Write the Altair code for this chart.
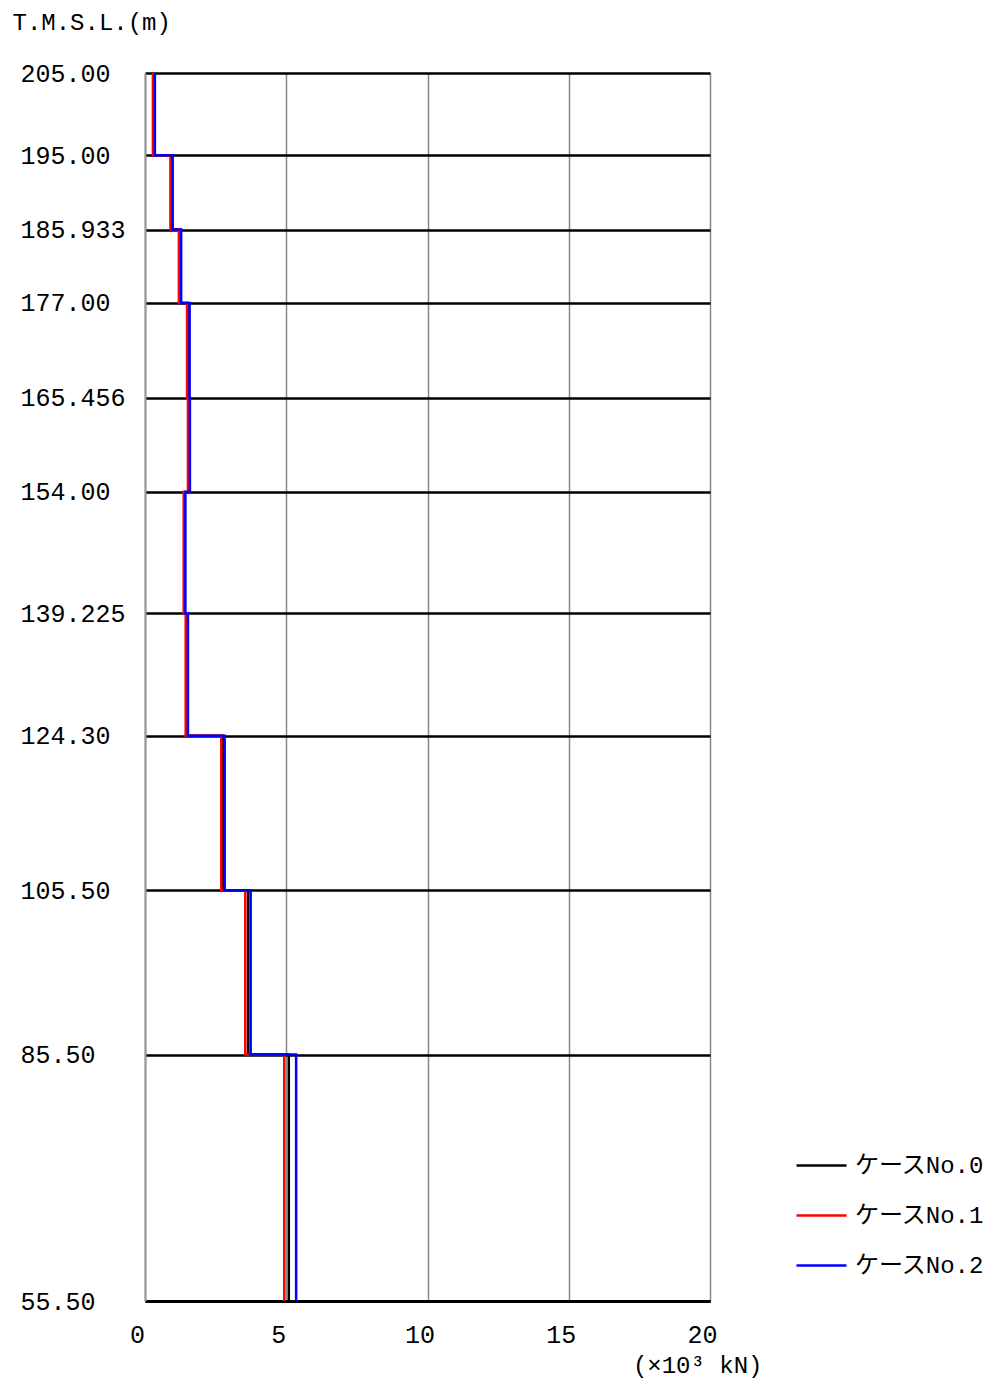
import altair as alt
import pandas as pd

levels = [205.0, 195.0, 185.933, 177.0, 165.456, 154.0, 139.225, 124.3, 105.5, 85.5, 55.5]
level_labels = ["205.00", "195.00", "185.933", "177.00", "165.456", "154.00",
                "139.225", "124.30", "105.50", "85.50", "55.50"]
cases = ["ケースNo.0", "ケースNo.1", "ケースNo.2"]
case0 = [0.31, 0.94, 1.24, 1.53, 1.55, 1.40, 1.48, 2.76, 3.65, 5.09]
case1 = [0.28, 0.90, 1.20, 1.49, 1.52, 1.37, 1.44, 2.70, 3.55, 4.93]
case2 = [0.35, 0.98, 1.28, 1.58, 1.59, 1.43, 1.52, 2.82, 3.74, 5.35]
x_ticks = [0, 5, 10, 15, 20]
colors = ["#000000", "#ff0000", "#0000ff"]

rows = []
for name, vals in zip(cases, [case0, case1, case2]):
    k = 0
    for i, v in enumerate(vals):
        rows.append({"case": name, "x": v, "y": levels[i], "o": k}); k += 1
        rows.append({"case": name, "x": v, "y": levels[i + 1], "o": k}); k += 1
df = pd.DataFrame(rows)

mapping = ",".join("'%s':'%s'" % (repr(v).rstrip('0').rstrip('.') if '.' in repr(v) else repr(v), lab)
                   for v, lab in zip(levels, level_labels))
label_expr = "({%s})[toString(datum.value)]" % mapping

FONT = "Liberation Mono, Noto Sans CJK JP"

chart = alt.Chart(df).mark_line(strokeWidth=2.5).encode(
    x=alt.X("x:Q", scale=alt.Scale(domain=[0, 20], nice=False, zero=False),
            axis=alt.Axis(values=x_ticks, title="(×10³ kN)", grid=True,
                          gridColor="#888888", gridWidth=1.5, domainColor="#000000",
                          domainWidth=3, ticks=False, labelPadding=33,
                          labelOffset=-8, labelFlush=False, labelFontSize=25,
                          labelFont=FONT,
                          labelColor="#000000", labelBaseline="middle",
                          titleFont=FONT, titleFontSize=24, titleFontWeight="normal",
                          titleColor="#000000", titleAnchor="end", titleAlign="right",
                          titleX=617, titleY=64, titleBaseline="middle")),
    y=alt.Y("y:Q", scale=alt.Scale(domain=[55.5, 205], nice=False, zero=False),
            axis=alt.Axis(values=levels, labelExpr=label_expr, title="T.M.S.L.(m)",
                          grid=True, gridColor="#000000", gridWidth=2.5,
                          domainColor="#999999", domainWidth=2, ticks=False,
                          labelAlign="left", labelPadding=125, labelBaseline="middle",
                          labelFontSize=25, labelFont=FONT, labelColor="#000000",
                          labelOverlap=False, labelFlush=False,
                          titleFont=FONT, titleFontSize=24, titleFontWeight="normal",
                          titleColor="#000000", titleAngle=0, titleAlign="left",
                          titleX=-133, titleY=-51, titleBaseline="middle")),
    color=alt.Color("case:N", scale=alt.Scale(domain=cases, range=colors),
                    legend=alt.Legend(title=None, orient="none", legendX=650, legendY=1066,
                                      symbolType="stroke", symbolSize=2500,
                                      symbolStrokeWidth=2.5, rowPadding=11,
                                      labelFont=FONT, labelFontSize=24, labelOffset=7,
                                      labelColor="#000000")),
    order="o:Q",
).properties(
    width=565, height=1228,
    autosize=alt.AutoSizeParams(type="none"),
    padding={"left": 137, "top": 65, "right": 290, "bottom": 79},
).configure_view(stroke=None).configure(background="#ffffff")

chart.save("out.html", embed_options={"renderer": "svg", "actions": False})
